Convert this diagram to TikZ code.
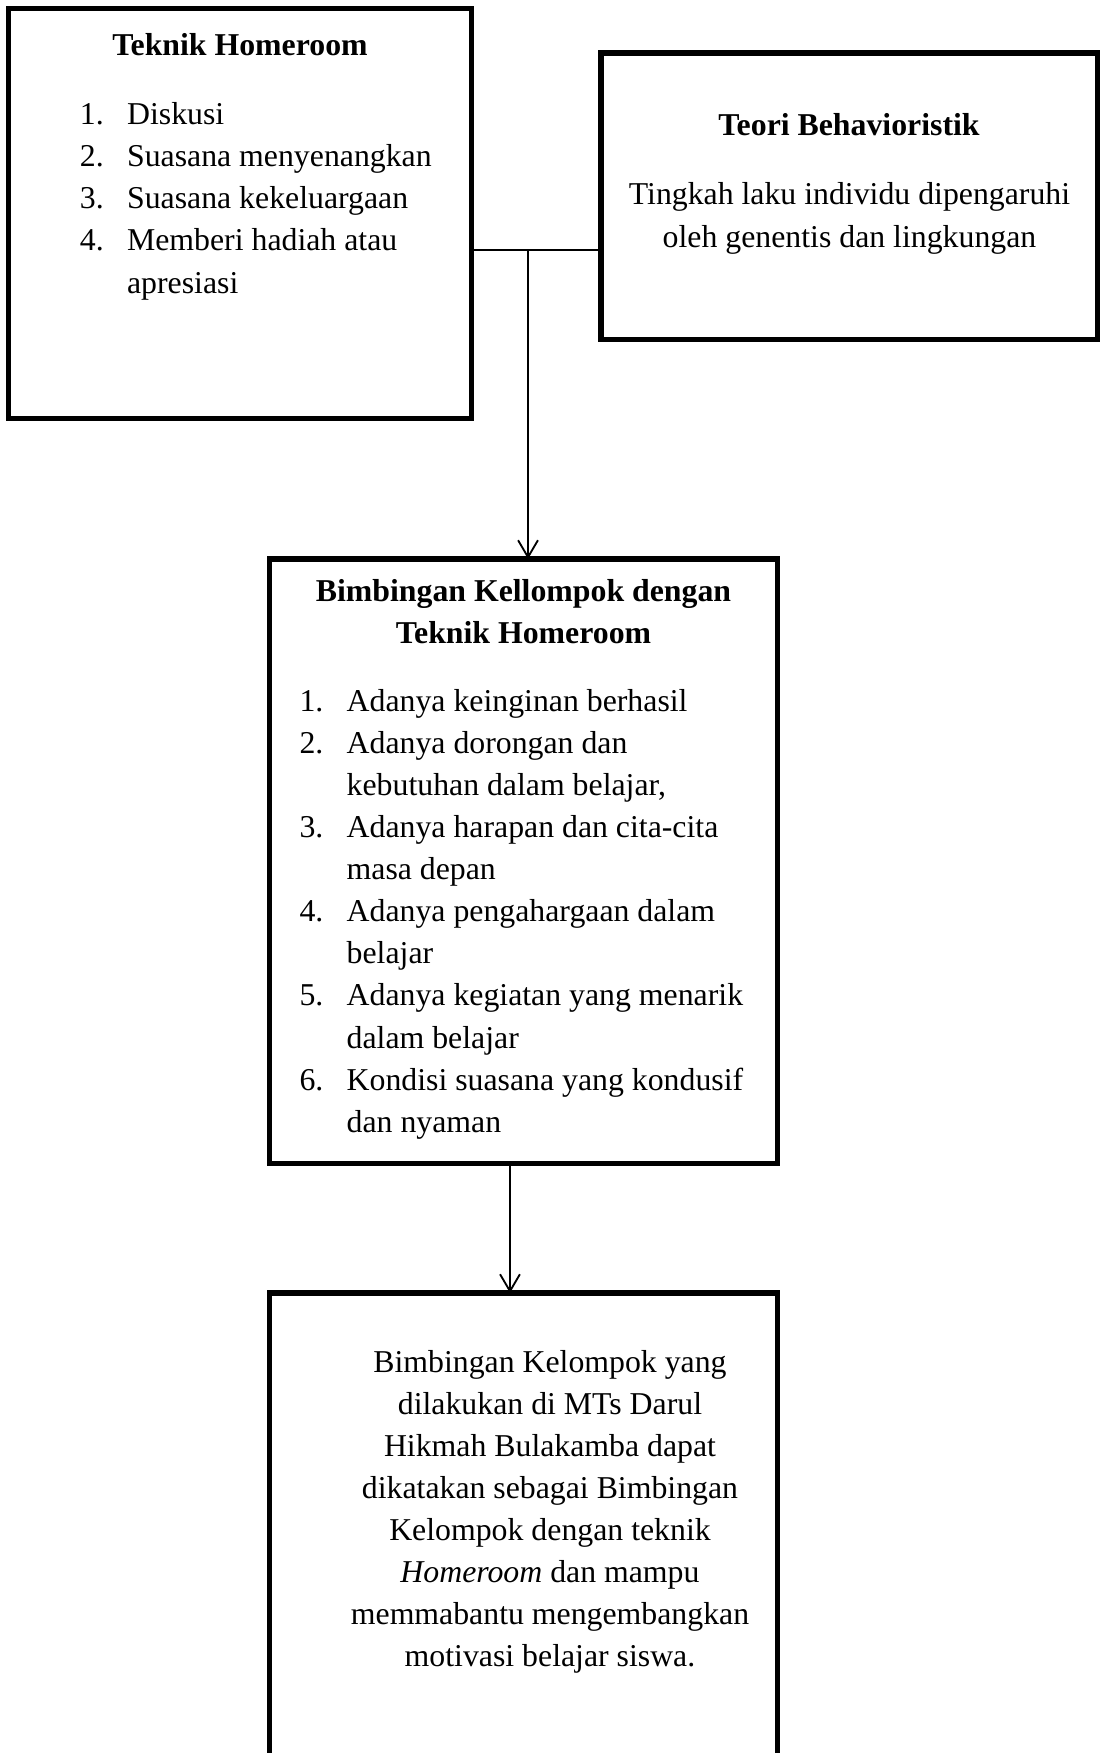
\documentclass[tikz,border=0pt]{standalone}
\usepackage{fontspec}
\setmainfont{Liberation Serif}
\usetikzlibrary{arrows.meta,calc}
\tikzset{
	box/.style={draw, line width=1.9pt, inner sep=0pt, outer sep=0pt, anchor=north west},
	link/.style={line width=0.7pt},
	txt/.style={inner sep=0pt, font=\fontsize{12}{15.9}\selectfont},
	>={Straight Barb[length=6.4pt,width=7.5pt]}
}
\begin{document}
\begin{tikzpicture}[x=0.3774pt,y=-0.3774pt]
			%%%%% START %%%%%
			\useasboundingbox (0, 0) rectangle (1101, 1753);
			
			\node[box, minimum width=174.7pt, minimum height=154.9pt] (hrbox) at (8.5, 8.5) {};
			\node[box, minimum width=187.2pt, minimum height=108.1pt] (thbox) at (601, 53) {};
			\node[box, minimum width=191.7pt, minimum height=228.3pt] (bkbox) at (269.5, 559) {};
			\node[box, minimum width=191.7pt, minimum height=195pt] (resbox) at (269.5, 1293) {};
			
			\node[txt, anchor=base, font=\fontsize{12}{15.9}\selectfont\bfseries] (hrtitle) at (240, 55.5) {Teknik Homeroom};
			\node[txt, anchor=base west] (hrlist) at (79.4, 124.5) {\begin{tabular}[t]{@{}p{17.8pt}@{}l@{}}
				1. & Diskusi\\
				2. & Suasana menyenangkan\\
				3. & Suasana kekeluargaan\\
				4. & Memberi hadiah atau\\
				   & apresiasi
			\end{tabular}};
			
			\node[txt, anchor=base, font=\fontsize{12}{15.9}\selectfont\bfseries] (thtitle) at (849, 136) {Teori Behavioristik};
			\node[txt, anchor=base] (thtext) at (849.5, 205) {\begin{tabular}[t]{@{}c@{}}
				Tingkah laku individu dipengaruhi\\
				oleh genentis dan lingkungan
			\end{tabular}};
			
			\node[txt, anchor=base, font=\fontsize{12}{15.9}\selectfont\bfseries] (bktitle) at (523.5, 601) {\begin{tabular}[t]{@{}c@{}}
				Bimbingan Kellompok dengan\\
				Teknik Homeroom
			\end{tabular}};
			\node[txt, anchor=base west] (bklist) at (299, 711) {\begin{tabular}[t]{@{}p{17.8pt}@{}l@{}}
				1. & Adanya keinginan berhasil\\
				2. & Adanya dorongan dan\\
				   & kebutuhan dalam belajar,\\
				3. & Adanya harapan dan cita-cita\\
				   & masa depan\\
				4. & Adanya pengahargaan dalam\\
				   & belajar\\
				5. & Adanya kegiatan yang menarik\\
				   & dalam belajar\\
				6. & Kondisi suasana yang kondusif\\
				   & dan nyaman
			\end{tabular}};
			
			\node[txt, anchor=base] (restext) at (550, 1372) {\begin{tabular}[t]{@{}c@{}}
				Bimbingan Kelompok yang\\
				dilakukan di MTs Darul\\
				Hikmah Bulakamba dapat\\
				dikatakan sebagai Bimbingan\\
				Kelompok dengan teknik\\
				\textit{Homeroom} dan mampu\\
				memmabantu mengembangkan\\
				motivasi belajar siswa.
			\end{tabular}};
			
			\coordinate (split) at (528, 250);
			\draw[link] (split -| hrbox.east) -- (split -| thbox.west);
			\draw[link, ->] (split) -- (split |- bkbox.north);
			\draw[link, ->] ($(bkbox.south)+(-13.5, 0)$) -- ($(resbox.north)+(-13.5, 0)$);
			
			%%%%% END %%%%%
\end{tikzpicture}
\end{document}
